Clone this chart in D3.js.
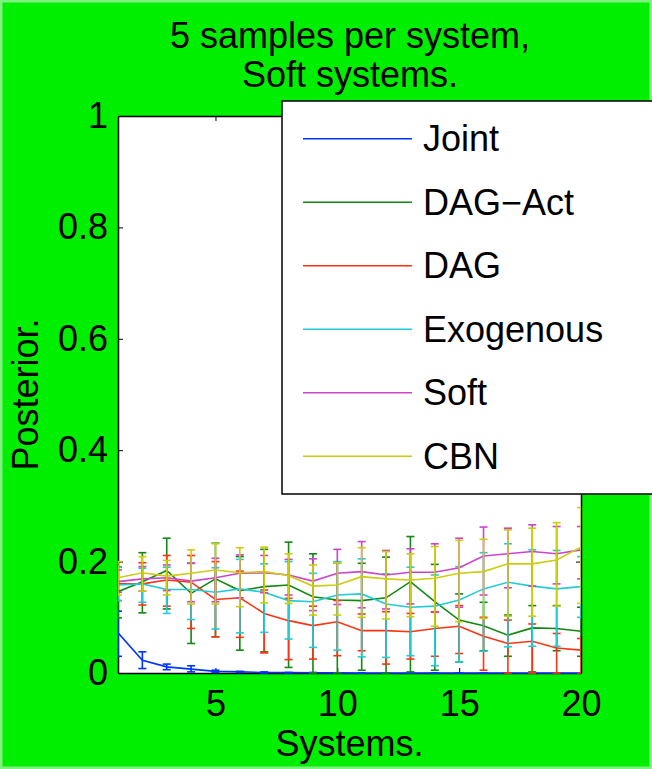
<!DOCTYPE html>
<html><head><meta charset="utf-8">
<script src="https://cdn.jsdelivr.net/npm/d3@7"></script>
<style>html,body{margin:0;padding:0;background:#00ee00;overflow:hidden}
text{font-family:"Liberation Sans",Arial,Helvetica,sans-serif;fill:#000}</style>
</head><body><svg id="c" width="652" height="769"></svg>
<script>
// ---------- data ----------
const systems = d3.range(1, 21);
const seriesNames = ["Joint", "DAG\u2212Act", "DAG", "Exogenous", "Soft", "CBN"];
const seriesColors = ["#0033ff", "#118811", "#ff3311", "#22cbd6", "#cc44cc", "#cccc11"];

const jointMean = [0.072,0.023,0.011,0.007,0.003,0.002,0.001,0.001,0.0005,0.0003,0,0,0,0,0,0,0,0,0,0];
const jointHi   = [0.111,0.038,0.016,0.013,0.005,0.003,0.002,0.001,0.001,0.0005,0,0,0,0,0,0,0,0,0,0];
const jointLo   = [0.030,0.008,0.006,0.002,0.001,0.001,0,0,0,0,0,0,0,0,0,0,0,0,0,0];

const dagActMean = [0.146,0.164,0.184,0.143,0.169,0.148,0.155,0.158,0.137,0.131,0.130,0.135,0.164,0.128,0.095,0.085,0.068,0.081,0.080,0.075];
const dagActHi   = [0.190,0.216,0.242,0.197,0.233,0.209,0.222,0.235,0.214,0.198,0.197,0.208,0.245,0.195,0.142,0.127,0.104,0.121,0.121,0.118];
const dagActLo   = [0.099,0.108,0.115,0.053,0.065,0.041,0.038,0.010,0.000,0.000,0.005,0.000,0.002,0.005,0.020,0.040,0.030,0.002,0.040,0.030];

const dagMean = [0.160,0.160,0.167,0.163,0.132,0.135,0.107,0.094,0.085,0.092,0.076,0.076,0.074,0.080,0.084,0.066,0.053,0.057,0.045,0.041];
const dagHi   = [0.190,0.198,0.211,0.211,0.200,0.183,0.149,0.134,0.120,0.130,0.106,0.110,0.107,0.109,0.121,0.100,0.095,0.088,0.071,0.062];
const dagLo   = [0.130,0.122,0.120,0.080,0.065,0.064,0.036,0.024,0.025,0.031,0.040,0.016,0.025,0.030,0.035,0.005,0.000,0.000,0.000,0.000];

const exoMean = [0.158,0.160,0.150,0.150,0.145,0.151,0.145,0.130,0.128,0.140,0.142,0.124,0.118,0.120,0.131,0.151,0.163,0.156,0.151,0.155];
const exoHi   = [0.190,0.188,0.190,0.197,0.189,0.204,0.196,0.200,0.179,0.200,0.205,0.178,0.190,0.176,0.191,0.216,0.232,0.221,0.220,0.209];
const exoLo   = [0.130,0.127,0.107,0.096,0.079,0.072,0.073,0.061,0.046,0.041,0.029,0.028,0.031,0.013,0.020,0.039,0.047,0.048,0.048,0.100];

const softMean = [0.164,0.169,0.171,0.165,0.171,0.179,0.180,0.176,0.165,0.179,0.182,0.176,0.181,0.181,0.189,0.210,0.214,0.218,0.214,0.221];
const softHi   = [0.185,0.191,0.194,0.197,0.206,0.212,0.211,0.204,0.205,0.222,0.236,0.220,0.223,0.232,0.242,0.262,0.260,0.266,0.263,0.263];
const softLo   = [0.145,0.147,0.148,0.128,0.128,0.135,0.144,0.140,0.112,0.123,0.117,0.115,0.124,0.110,0.118,0.140,0.153,0.156,0.160,0.169];

const cbnMean = [0.171,0.180,0.174,0.179,0.185,0.180,0.182,0.175,0.156,0.158,0.173,0.169,0.167,0.170,0.179,0.182,0.196,0.196,0.203,0.226];
const cbnHi   = [0.200,0.209,0.202,0.221,0.232,0.225,0.226,0.214,0.194,0.198,0.225,0.218,0.214,0.227,0.238,0.240,0.257,0.260,0.270,0.297];
const cbnLo   = [0.140,0.147,0.140,0.124,0.124,0.119,0.126,0.125,0.104,0.104,0.100,0.097,0.101,0.084,0.092,0.098,0.102,0.102,0.120,0.125];

const yTicks = [0, 0.2, 0.4, 0.6, 0.8, 1];
const yTickLabels = ["0", "0.2", "0.4", "0.6", "0.8", "1"];
const xTicks = [5, 10, 15, 20];
const titleLines = ["5 samples per system,", "Soft systems."];
const xLabel = "Systems.";
const yLabel = "Posterior.";

const means = [jointMean, dagActMean, dagMean, exoMean, softMean, cbnMean];
const his = [jointHi, dagActHi, dagHi, exoHi, softHi, cbnHi];
const los = [jointLo, dagActLo, dagLo, exoLo, softLo, cbnLo];

// ---------- layout ----------
const W = 652, H = 769;
const L = 118, R = 581, T = 116, B = 673;
const FS = 36;

const svg = d3.select("#c");
svg.append("rect").attr("x", 0).attr("y", 0).attr("width", W).attr("height", H).attr("fill", "#00ee00");
svg.append("rect").attr("x", 1.25).attr("y", 1.25).attr("width", W - 2.5).attr("height", H - 2.5)
  .attr("fill", "none").attr("stroke", "#80f080").attr("stroke-width", 2.5);

const x = d3.scaleLinear().domain([1, 20]).range([L, R]);
const y = d3.scaleLinear().domain([0, 1]).range([B, T]);

svg.append("rect").attr("x", L).attr("y", T).attr("width", R - L).attr("height", B - T).attr("fill", "#fff");

const axStyle = g => {
  g.selectAll(".domain").attr("stroke", "#000").attr("stroke-width", 1.5);
  g.selectAll(".tick line").attr("stroke", "#000").attr("stroke-width", 1);
  g.selectAll("text").style("font-size", FS + "px").attr("fill", "#000");
};
svg.append("g").attr("transform", `translate(${L},0)`)
  .call(d3.axisLeft(y).tickValues(yTicks).tickSize(-5).tickSizeOuter(0).tickPadding(10)
    .tickFormat((d, i) => yTickLabels[i])).call(axStyle);
svg.append("g").attr("transform", `translate(${R},0)`)
  .call(d3.axisRight(y).tickValues(yTicks).tickSize(-5).tickSizeOuter(0).tickFormat("")).call(axStyle);
svg.append("g").attr("transform", `translate(0,${B})`)
  .call(d3.axisBottom(x).tickValues(xTicks).tickSize(-5).tickSizeOuter(0).tickPadding(17)
    .tickFormat(d3.format("d"))).call(axStyle);
svg.append("g").attr("transform", `translate(0,${T})`)
  .call(d3.axisTop(x).tickValues(xTicks).tickSize(-5).tickSizeOuter(0).tickFormat("")).call(axStyle);

svg.append("clipPath").attr("id", "clip").append("rect")
  .attr("x", L).attr("y", T - 1).attr("width", R - L).attr("height", B - T + 2);
const plot = svg.append("g").attr("clip-path", "url(#clip)");

const capW = 4;
means.forEach((m, si) => {
  const col = seriesColors[si];
  const g = plot.append("g");
  systems.forEach((s, i) => {
    const lo = y(los[si][i]), hi = y(his[si][i]), cx = x(s);
    g.append("line").attr("x1", cx).attr("x2", cx).attr("y1", lo).attr("y2", hi)
      .attr("stroke", col).attr("stroke-width", 1.6);
    [lo, hi].forEach(yy => g.append("line").attr("x1", cx - capW).attr("x2", cx + capW)
      .attr("y1", yy).attr("y2", yy).attr("stroke", col).attr("stroke-width", 1.6));
  });
  g.append("path").datum(systems)
    .attr("d", d3.line().x(s => x(s)).y((s, i) => y(m[i])))
    .attr("fill", "none").attr("stroke", col).attr("stroke-width", 1.6);
});

svg.append("text").attr("x", 350).attr("y", 48).attr("text-anchor", "middle").style("font-size", FS + "px").text(titleLines[0]);
svg.append("text").attr("x", 350).attr("y", 87).attr("text-anchor", "middle").style("font-size", FS + "px").text(titleLines[1]);
svg.append("text").attr("x", (L + R) / 2).attr("y", 756).attr("text-anchor", "middle").style("font-size", FS + "px").text(xLabel);
svg.append("text").attr("transform", `translate(38,${(T + B) / 2}) rotate(-90)`).attr("text-anchor", "middle")
  .style("font-size", FS + "px").text(yLabel);

const lg = svg.append("g");
lg.append("rect").attr("x", 282).attr("y", 101).attr("width", 400).attr("height", 393)
  .attr("fill", "#fff").attr("stroke", "#000").attr("stroke-width", 1.5);
seriesNames.forEach((n, i) => {
  const yy = 138.7 + i * 63.5;
  lg.append("line").attr("x1", 303).attr("x2", 412).attr("y1", yy).attr("y2", yy)
    .attr("stroke", seriesColors[i]).attr("stroke-width", 1.6);
  lg.append("text").attr("x", 423).attr("y", yy).attr("dy", "0.35em").style("font-size", FS + "px").text(n);
});
</script></body></html>
